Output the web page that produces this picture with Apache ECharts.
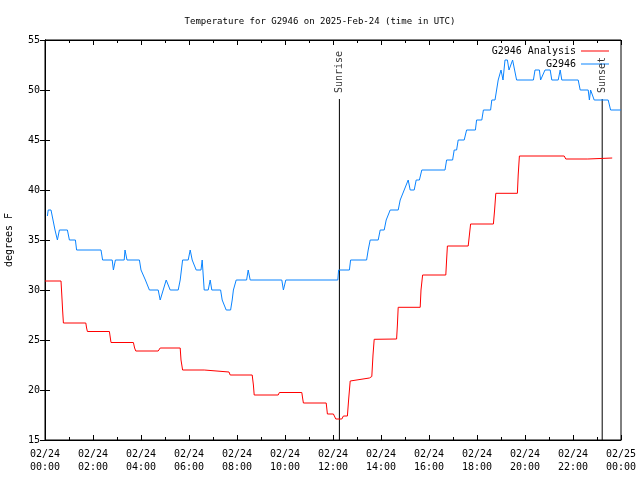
<!DOCTYPE html>
<html><head><meta charset="utf-8">
<script src="https://cdn.jsdelivr.net/npm/echarts@6/dist/echarts.min.js"></script>
<style>html,body{margin:0;padding:0;background:#fff}#c{width:640px;height:480px}</style>
</head><body><div id="c"></div>
<script>
// minutes since 2025-02-24 00:00 UTC
const obsMinutes = [6,8,15,20,25,31,36,56,61,76,79,140,144,168,171,176,198,200,205,236,240,251,261,283,288,293,303,308,313,333,338,344,358,363,368,373,378,390,393,398,408,413,417,439,443,448,453,464,468,471,478,504,508,513,592,596,602,732,734,761,764,804,808,813,833,838,848,853,858,863,883,888,892,898,903,908,913,923,928,936,942,1000,1004,1019,1023,1029,1033,1048,1054,1076,1079,1092,1096,1114,1117,1125,1129,1133,1138,1140,1145,1150,1156,1160,1165,1169,1173,1179,1221,1225,1236,1239,1244,1250,1263,1267,1283,1288,1292,1333,1338,1358,1361,1364,1368,1373,1408,1414,1440];
const obsTemps = [37.4,38,38,37,36,35,36,36,35,35,34,34,33,33,32,33,33,34,33,33,32,31,30,30,29,29,31,31,30,30,31,33,33,34,33,33,32,32,33,30,30,31,30,30,29,29,28,28,29,30,31,31,32,31,31,30,31,31,32,32,33,33,34,35,35,36,36,37,37,38,38,39,39,40,40,41,40,40,41,41,42,42,43,43,44,44,45,45,46,46,47,47,48,48,49,49,50,51,51,52,51,53,53,52,52,53,53,51,51,52,52,51,51,52,52,51,51,52,51,51,50,50,49,50,50,49,49,48,48];
const anaMinutes = [0,40,42,44,46,102,104,106,161,163,165,221,224,227,283,288,338,340,344,398,402,460,463,518,521,523,583,586,642,644,646,703,706,721,727,742,746,756,759,763,764,811,813,817,820,823,879,881,883,938,940,944,1002,1004,1006,1058,1061,1064,1121,1124,1127,1181,1183,1186,1298,1302,1357,1358,1418];
const anaTemps = [30.9,30.9,29.5,28,26.7,26.7,26.2,25.85,25.85,25.3,24.75,24.75,24.2,23.9,23.9,24.2,24.2,23,22,22,21.8,21.8,21.5,21.5,20.5,19.5,19.5,19.75,19.75,19.2,18.7,18.7,17.6,17.6,17.1,17.1,17.4,17.4,19,20.9,21.07,21.2,21.35,21.35,23.5,25.07,25.1,26.5,28.27,28.27,30,31.5,31.5,33,34.4,34.4,35.5,36.6,36.6,38,39.67,39.67,41.5,43.4,43.4,43.1,43.1,43.2,43.2];
const sunEvents = ['Sunrise','Sunset'];
const sunMinutes = [736, 1393];
const sunLineTop = 49.1;
const yMin = 15, yMax = 55, yStep = 5;
const xMin = 0, xMax = 1440, xStep = 120;
const seriesNames = ['G2946 Analysis','G2946'];
const titleText = 'Temperature for G2946 on 2025-Feb-24 (time in UTC)';

const FONT = 'DejaVu Sans Mono';
const zip = (a,b) => a.map((v,i)=>[v,b[i]]);
function xLabel(v){
  const day = v >= 1440 ? '02/25' : '02/24';
  const h = Math.floor((v % 1440)/60);
  return day + '\n' + String(h).padStart(2,'0') + ':00';
}
const chart = echarts.init(document.getElementById('c'), null, {renderer:'canvas'});
const sunSeries = sunEvents.map((name,i)=>({
  type:'line', silent:true, symbol:'none', showSymbol:false,
  lineStyle:{color:'#000', width:1}, z:3,
  data:[[sunMinutes[i], yMin], [sunMinutes[i], sunLineTop]]
}));
const sunLabels = {
  type:'scatter', silent:true, symbolSize:0, z:5,
  data: sunEvents.map((name,i)=>({value:[sunMinutes[i], sunLineTop], name:name})),
  label:{show:true, formatter:p=>p.name, position:'top', distance:6, rotate:90,
    align:'left', verticalAlign:'middle', color:'#000', fontFamily:FONT, fontSize:10}
};
chart.setOption({
  animation:false,
  backgroundColor:'#fff',
  title:{text:titleText, left:'center', top:12,
    textStyle:{fontFamily:FONT, fontSize:9, fontWeight:'normal', color:'#000'}},
  grid:{left:45, right:19, top:40, bottom:40, show:true, borderColor:'#000', borderWidth:1,
    backgroundColor:'transparent', containLabel:false, outerBoundsMode:'none'},
  legend:{data:seriesNames, orient:'vertical', right:26, top:41, align:'right',
    icon:'rect', itemWidth:28, itemHeight:1, itemGap:3,
    textStyle:{fontFamily:FONT, fontSize:10, color:'#000'}},
  xAxis:[{type:'value', min:xMin, max:xMax, interval:xStep, position:'bottom',
    axisLine:{show:true, lineStyle:{color:'#000'}},
    axisTick:{show:true, inside:true, length:5, lineStyle:{color:'#000'}},
    minorTick:{show:true, splitNumber:2, length:3, lineStyle:{color:'#000'}},
    splitLine:{show:false},
    axisLabel:{formatter:xLabel, fontFamily:FONT, fontSize:10, color:'#000', margin:8, lineHeight:13}},
   {type:'value', min:xMin, max:xMax, interval:xStep, position:'top',
    axisLine:{show:true, lineStyle:{color:'#000'}},
    axisTick:{show:true, inside:true, length:5, lineStyle:{color:'#000'}},
    minorTick:{show:true, splitNumber:2, length:3, lineStyle:{color:'#000'}},
    splitLine:{show:false}, axisLabel:{show:false}}],
  yAxis:[{type:'value', min:yMin, max:yMax, interval:yStep, position:'left',
    name:'degrees F', nameLocation:'middle', nameGap:31, nameRotate:90,
    nameTextStyle:{fontFamily:FONT, fontSize:10, color:'#000'},
    axisLine:{show:true, lineStyle:{color:'#000'}},
    axisTick:{show:true, inside:true, length:5, lineStyle:{color:'#000'}},
    splitLine:{show:false},
    axisLabel:{fontFamily:FONT, fontSize:10, color:'#000', margin:5}},
   {type:'value', min:yMin, max:yMax, interval:yStep, position:'right',
    axisLine:{show:true, lineStyle:{color:'#000'}},
    axisTick:{show:true, inside:true, length:5, lineStyle:{color:'#000'}},
    splitLine:{show:false}, axisLabel:{show:false}}],
  series:[
    {name:seriesNames[0], type:'line', data:zip(anaMinutes, anaTemps), symbol:'none', showSymbol:false,
     color:'#ff0000', lineStyle:{color:'#ff0000', width:1}, z:4},
    {name:seriesNames[1], type:'line', data:zip(obsMinutes, obsTemps), symbol:'none', showSymbol:false,
     color:'#0a84ff', lineStyle:{color:'#0a84ff', width:1}, z:4},
    ...sunSeries,
    sunLabels
  ]
});
</script></body></html>
